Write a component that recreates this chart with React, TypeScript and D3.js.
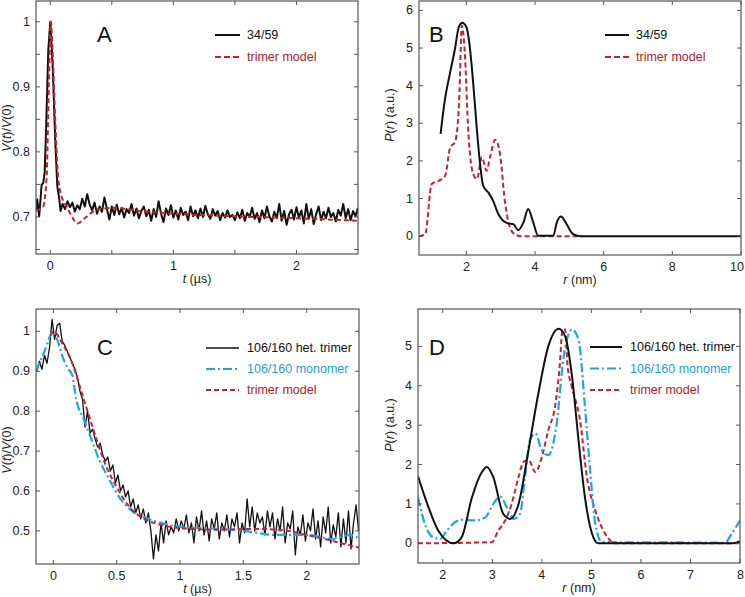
import React from 'react';
import * as d3 from 'd3';

const RED = '#c8202e';
const RED_TEXT = '#b01a29';
const BLUE = '#1fa6e2';
const BLUE_TEXT = '#1b9fdc';
const FONT = 'Liberation Sans, Arial, Helvetica, sans-serif';

// ---------- Panel A ----------
const aHeadT = [-0.116, -0.106, -0.09, -0.07, -0.057, -0.045, -0.035, -0.016, 0, 0.02, 0.04, 0.057, 0.073, 0.084];
const aHeadV = [0.711, 0.727, 0.701, 0.75, 0.752, 0.77, 0.829, 0.957, 1.0, 0.93, 0.819, 0.747, 0.727, 0.709];
const aTailStart = 0.1;
const aTailStep = 0.02;
const aTailV = [
  0.72, 0.712, 0.724, 0.715, 0.722, 0.708, 0.718, 0.712, 0.728, 0.716,
  0.735, 0.719, 0.71, 0.722, 0.705, 0.716, 0.708, 0.73, 0.712, 0.696,
  0.716, 0.703, 0.719, 0.704, 0.714, 0.699, 0.712, 0.706, 0.72, 0.702,
  0.713, 0.698, 0.709, 0.716, 0.701, 0.711, 0.694, 0.712, 0.7, 0.724,
  0.705, 0.692, 0.713, 0.703, 0.718, 0.699, 0.71, 0.696, 0.714, 0.703,
  0.708, 0.695, 0.716, 0.701, 0.71, 0.698, 0.713, 0.7, 0.717, 0.704,
  0.697, 0.712, 0.702, 0.709, 0.695, 0.706, 0.699, 0.71, 0.7, 0.703,
  0.695, 0.707, 0.698, 0.711, 0.694, 0.706, 0.7, 0.714, 0.697, 0.706,
  0.692, 0.71, 0.698, 0.716, 0.701, 0.693, 0.708, 0.698, 0.72, 0.694,
  0.709, 0.688, 0.704, 0.711, 0.696, 0.715, 0.699, 0.71, 0.69, 0.72,
  0.697, 0.712, 0.689, 0.704, 0.716, 0.695, 0.708, 0.698, 0.714, 0.7,
  0.706, 0.693, 0.711, 0.702, 0.72, 0.698, 0.712, 0.695, 0.709, 0.701,
  0.714,
];
const aRedT = [-0.116, -0.06, -0.03, -0.012, 0.005, 0.02, 0.04, 0.06, 0.08, 0.1, 0.133, 0.174, 0.22, 0.28, 0.377, 0.513, 0.7, 1.0, 1.5, 2.0, 2.5];
const aRedV = [0.71, 0.715, 0.76, 0.9, 1.0, 0.95, 0.85, 0.77, 0.74, 0.727, 0.716, 0.701, 0.69, 0.698, 0.711, 0.714, 0.71, 0.705, 0.701, 0.698, 0.694];

// ---------- Panel B ----------
const bBlackR = [1.25, 1.37, 1.52, 1.66, 1.78, 1.88, 2.0, 2.1, 2.2, 2.3, 2.39, 2.49, 2.64, 2.78, 2.93, 3.07, 3.22, 3.37, 3.51, 3.66, 3.8, 3.95, 4.09, 4.53, 4.64, 4.76, 4.9, 5.1, 5.31, 10];
const bBlackP = [2.72, 3.6, 4.32, 4.94, 5.56, 5.67, 5.56, 5.03, 4.05, 2.9, 2.0, 1.34, 1.16, 0.94, 0.59, 0.41, 0.34, 0.32, 0.16, 0.36, 0.72, 0.36, 0.01, 0.01, 0.38, 0.52, 0.35, 0.06, 0, 0];
const bRedR = [0.62, 0.8, 0.99, 1.19, 1.38, 1.53, 1.67, 1.79, 1.87, 1.95, 2.06, 2.2, 2.31, 2.45, 2.59, 2.69, 2.84, 2.98, 3.12, 3.27, 3.41, 3.61, 5.4];
const bRedP = [0, 0.05, 1.39, 1.47, 1.6, 2.36, 2.5, 3.6, 5.6, 4.94, 2.72, 1.65, 1.52, 2.1, 1.74, 2.1, 2.56, 2.18, 0.94, 0.23, 0.05, 0, 0];

// ---------- Panel C ----------
const cStart = -0.13;
const cStep = 0.02;
const cBlackV = [
  0.9, 0.925, 0.905, 0.94, 0.92, 0.96, 1.03, 0.98, 1.015, 1.02,
  0.975, 0.965, 0.95, 0.935, 0.92, 0.905, 0.885, 0.85, 0.83, 0.76,
  0.8, 0.745, 0.755, 0.73, 0.71, 0.72, 0.69, 0.675, 0.685, 0.65,
  0.665, 0.62, 0.64, 0.6, 0.615, 0.585, 0.6, 0.56, 0.58, 0.545,
  0.565, 0.53, 0.555, 0.52, 0.545, 0.5, 0.43, 0.49, 0.45, 0.52,
  0.47, 0.525, 0.49, 0.51, 0.495, 0.53, 0.5, 0.525, 0.505, 0.54,
  0.495, 0.52, 0.47, 0.535, 0.5, 0.55, 0.49, 0.525, 0.475, 0.53,
  0.505, 0.545, 0.48, 0.52, 0.5, 0.54, 0.485, 0.53, 0.51, 0.545,
  0.47, 0.52, 0.495, 0.58, 0.51, 0.56, 0.5, 0.545, 0.52, 0.535,
  0.49, 0.55, 0.51, 0.545, 0.48, 0.53, 0.5, 0.56, 0.47, 0.52,
  0.505, 0.55, 0.44, 0.51, 0.49, 0.54, 0.475, 0.52, 0.5, 0.555,
  0.48, 0.525, 0.46, 0.535, 0.495, 0.56, 0.47, 0.515, 0.485, 0.545,
  0.46, 0.53, 0.47, 0.55, 0.455, 0.52, 0.565, 0.5,
];
const cBlueT = [-0.137, -0.07, 0, 0.03, 0.08, 0.12, 0.15, 0.18, 0.24, 0.3, 0.36, 0.44, 0.53, 0.62, 0.75, 0.85, 1.0, 1.3, 1.5, 1.75, 2.0, 2.2, 2.35, 2.413];
const cBlueV = [0.9, 0.95, 1.0, 0.98, 0.93, 0.905, 0.89, 0.83, 0.78, 0.73, 0.68, 0.63, 0.58, 0.55, 0.53, 0.52, 0.51, 0.505, 0.5, 0.49, 0.49, 0.48, 0.49, 0.48];
const cRedT = [-0.02, 0.0, 0.07, 0.15, 0.22, 0.29, 0.35, 0.42, 0.5, 0.6, 0.72, 0.85, 1.0, 1.3, 1.6, 1.85, 2.0, 2.2, 2.413];
const cRedV = [0.99, 1.0, 0.97, 0.92, 0.85, 0.78, 0.72, 0.66, 0.61, 0.56, 0.53, 0.515, 0.507, 0.503, 0.505, 0.5, 0.49, 0.475, 0.458];

// ---------- Panel D ----------
const dBlackR = [1.5, 1.71, 1.91, 2.22, 2.38, 2.59, 2.79, 2.89, 3.02, 3.22, 3.36, 3.53, 3.73, 3.93, 4.13, 4.34, 4.47, 4.61, 4.74, 4.87, 5.04, 5.14, 7.83, 8.0];
const dBlackP = [1.7, 0.92, 0.32, 0, 0.15, 1.17, 1.81, 1.94, 1.68, 0.75, 0.62, 1.0, 2.36, 3.81, 5.0, 5.45, 5.26, 4.23, 2.62, 1.17, 0.15, 0, 0, 0.05];
const dBlueR = [1.5, 1.64, 1.81, 1.95, 2.08, 2.25, 2.38, 2.65, 2.86, 3.02, 3.16, 3.29, 3.43, 3.56, 3.66, 3.76, 3.87, 4.0, 4.13, 4.3, 4.44, 4.61, 4.74, 4.87, 4.98, 5.08, 5.21, 7.7, 7.83, 8.0];
const dBlueP = [1.17, 0.49, 0.15, 0.11, 0.32, 0.54, 0.6, 0.58, 0.66, 1.0, 1.19, 0.92, 0.62, 0.75, 1.68, 2.62, 2.79, 2.36, 2.24, 3.04, 4.74, 5.43, 5.17, 3.47, 1.77, 0.49, 0.03, 0.02, 0.24, 0.58];
const dRedR = [1.5, 2.99, 3.12, 3.26, 3.39, 3.53, 3.63, 3.73, 3.87, 4.0, 4.13, 4.27, 4.36, 4.42, 4.47, 4.52, 4.6, 4.77, 4.91, 5.08, 5.28, 5.48, 8.0];
const dRedP = [0, 0.03, 0.32, 0.58, 1.0, 1.68, 2.07, 2.11, 1.81, 2.19, 2.87, 3.5, 4.5, 5.43, 5.43, 4.5, 4.0, 3.13, 1.68, 0.83, 0.24, 0, 0];

// ---------- tick definitions ----------
const aXTicks = [0, 0.5, 1, 1.5, 2];
const aXLabels = ['0', '', '1', '', '2'];
const aYTicks = [0.65, 0.7, 0.75, 0.8, 0.85, 0.9, 0.95, 1];
const aYLabels = ['', '0.7', '', '0.8', '', '0.9', '', '1'];
const bXTicks = [2, 4, 6, 8, 10];
const bXLabels = ['2', '4', '6', '8', '10'];
const bYTicks = [0, 1, 2, 3, 4, 5, 6];
const bYLabels = ['0', '1', '2', '3', '4', '5', '6'];
const cXTicks = [0, 0.5, 1, 1.5, 2];
const cXLabels = ['0', '0.5', '1', '1.5', '2'];
const cYTicks = [0.5, 0.6, 0.7, 0.8, 0.9, 1];
const cYLabels = ['0.5', '0.6', '0.7', '0.8', '0.9', '1'];
const dXTicks = [2, 3, 4, 5, 6, 7, 8];
const dXLabels = ['2', '3', '4', '5', '6', '7', '8'];
const dYTicks = [0, 1, 2, 3, 4, 5];
const dYLabels = ['0', '1', '2', '3', '4', '5'];

type Series = { xs: number[]; ys: number[]; color: string; width: number; dash?: string; curve?: any };
type LegendItem = { label: string; color: string; textColor: string; width: number; dash?: string };

const zip = (xs: number[], ys: number[]) => xs.map((x, i) => [x, ys[i]] as [number, number]);
const grid = (start: number, step: number, vals: number[]) => vals.map((_, i) => +(start + i * step).toFixed(4));

function Panel(props: {
  id: string;
  box: { x0: number; x1: number; y0: number; y1: number };
  xDomain: [number, number];
  yDomain: [number, number];
  xTicks: number[]; xLabels: string[];
  yTicks: number[]; yLabels: string[];
  series: Series[];
  legend: LegendItem[];
  legendPos: { lx0: number; lx1: number; tx: number; y: number; gap: number };
  letter: string; letterPos: [number, number];
  xTitle: React.ReactNode; yTitle: React.ReactNode;
  yTitlePos: [number, number];
}) {
  const { box } = props;
  const x = d3.scaleLinear().domain(props.xDomain).range([box.x0, box.x1]);
  const y = d3.scaleLinear().domain(props.yDomain).range([box.y1, box.y0]);
  const tl = 4;
  const frameColor = '#555';
  return (
    <g>
      <defs>
        <clipPath id={'clip' + props.id}>
          <rect x={box.x0} y={box.y0} width={box.x1 - box.x0} height={box.y1 - box.y0} />
        </clipPath>
      </defs>
      <g clipPath={`url(#clip${props.id})`}>
        {props.series.map((s, i) => {
          const gen = d3.line<[number, number]>().x(d => x(d[0])).y(d => y(d[1])).curve(s.curve || d3.curveLinear);
          return (
            <path key={i} d={gen(zip(s.xs, s.ys)) || ''} fill="none" stroke={s.color} strokeWidth={s.width}
              strokeDasharray={s.dash} strokeLinejoin="round" strokeLinecap="butt" />
          );
        })}
      </g>
      <rect x={box.x0} y={box.y0} width={box.x1 - box.x0} height={box.y1 - box.y0} fill="none" stroke={frameColor} strokeWidth={1.2} />
      {props.xTicks.map((t, i) => {
        const px = x(t);
        const nearEdge = px > 735;
        return (
          <g key={'xt' + i}>
            <line x1={px} x2={px} y1={box.y1} y2={box.y1 - tl} stroke={frameColor} />
            <line x1={px} x2={px} y1={box.y0} y2={box.y0 + tl} stroke={frameColor} />
            {props.xLabels[i] && (
              <text x={nearEdge ? 744 : px} y={box.y1 + 12} textAnchor={nearEdge ? 'end' : 'middle'} dominantBaseline="central" fontSize={12.5} fill="#222" fontFamily={FONT}>{props.xLabels[i]}</text>
            )}
          </g>
        );
      })}
      {props.yTicks.map((t, i) => (
        <g key={'yt' + i}>
          <line x1={box.x0} x2={box.x0 + tl} y1={y(t)} y2={y(t)} stroke={frameColor} />
          <line x1={box.x1} x2={box.x1 - tl} y1={y(t)} y2={y(t)} stroke={frameColor} />
          {props.yLabels[i] && (
            <text x={box.x0 - 6} y={y(t)} textAnchor="end" dominantBaseline="central" fontSize={12.5} fill="#222" fontFamily={FONT}>{props.yLabels[i]}</text>
          )}
        </g>
      ))}
      <text x={(box.x0 + box.x1) / 2} y={box.y1 + 25} textAnchor="middle" dominantBaseline="central" fontSize={12.5} fill="#222" fontFamily={FONT}>{props.xTitle}</text>
      <text transform={`translate(${props.yTitlePos[0]},${props.yTitlePos[1]}) rotate(-90)`} textAnchor="middle" dominantBaseline="central" fontSize={12.5} fill="#222" fontFamily={FONT}>{props.yTitle}</text>
      <text x={props.letterPos[0]} y={props.letterPos[1]} fontSize={22} fill="#111" fontFamily={FONT}>{props.letter}</text>
      {props.legend.map((l, i) => {
        const yy = props.legendPos.y + i * props.legendPos.gap;
        return (
          <g key={'lg' + i}>
            <line x1={props.legendPos.lx0} x2={props.legendPos.lx1} y1={yy} y2={yy} stroke={l.color} strokeWidth={l.width} strokeDasharray={l.dash} />
            <text x={props.legendPos.tx} y={yy} dominantBaseline="central" fontSize={12.5} fill={l.textColor} fontFamily={FONT}>{l.label}</text>
          </g>
        );
      })}
    </g>
  );
}

const it = (s: string) => <tspan fontStyle="italic">{s}</tspan>;

export default function App() {
  const aTailT = grid(aTailStart, aTailStep, aTailV);
  const cT = grid(cStart, cStep, cBlackV);
  const vTitle = <>{it('V')}({it('t')})/{it('V')}(0)</>;
  const pTitle = <>{it('P')}({it('r')}) (a.u.)</>;
  const tTitle = <>{it('t')} (µs)</>;
  const rTitle = <>{it('r')} (nm)</>;
  const redDash = '5,3';
  const blueDash = '9,3,2,3';
  return (
    <svg width={745} height={597} style={{ position: 'absolute', left: 0, top: 0, background: '#fff' }}>
      <rect width={745} height={597} fill="#fff" />
      <Panel id="A" box={{ x0: 36, x1: 358, y0: 1, y1: 254 }} xDomain={[-0.116, 2.5]} yDomain={[0.643, 1.032]}
        xTicks={aXTicks} xLabels={aXLabels} yTicks={aYTicks} yLabels={aYLabels}
        series={[
          { xs: [...aHeadT, ...aTailT], ys: [...aHeadV, ...aTailV], color: '#111', width: 2 },
          { xs: aRedT, ys: aRedV, color: RED, width: 2, dash: redDash, curve: d3.curveMonotoneX },
        ]}
        legend={[
          { label: '34/59', color: '#111', textColor: '#111', width: 2 },
          { label: 'trimer model', color: RED, textColor: RED_TEXT, width: 2, dash: '6,3' },
        ]}
        legendPos={{ lx0: 215, lx1: 240, tx: 247, y: 35, gap: 22 }}
        letter="A" letterPos={[97, 42]} xTitle={tTitle} yTitle={vTitle} yTitlePos={[7, 128]} />
      <Panel id="B" box={{ x0: 419, x1: 741, y0: 1, y1: 255 }} xDomain={[0.62, 10]} yDomain={[-0.5, 6.25]}
        xTicks={bXTicks} xLabels={bXLabels} yTicks={bYTicks} yLabels={bYLabels}
        series={[
          { xs: bRedR, ys: bRedP, color: RED, width: 2, dash: redDash, curve: d3.curveMonotoneX },
          { xs: bBlackR, ys: bBlackP, color: '#111', width: 2, curve: d3.curveMonotoneX },
        ]}
        legend={[
          { label: '34/59', color: '#111', textColor: '#111', width: 2 },
          { label: 'trimer model', color: RED, textColor: RED_TEXT, width: 2, dash: '6,3' },
        ]}
        legendPos={{ lx0: 605, lx1: 629, tx: 636, y: 35, gap: 22 }}
        letter="B" letterPos={[429, 42]} xTitle={rTitle} yTitle={pTitle} yTitlePos={[390, 115]} />
      <Panel id="C" box={{ x0: 36, x1: 359, y0: 309, y1: 564 }} xDomain={[-0.137, 2.413]} yDomain={[0.417, 1.056]}
        xTicks={cXTicks} xLabels={cXLabels} yTicks={cYTicks} yLabels={cYLabels}
        series={[
          { xs: cT, ys: cBlackV, color: '#111', width: 1.3 },
          { xs: cBlueT, ys: cBlueV, color: BLUE, width: 2.2, dash: blueDash, curve: d3.curveMonotoneX },
          { xs: cRedT, ys: cRedV, color: RED, width: 2, dash: redDash, curve: d3.curveMonotoneX },
        ]}
        legend={[
          { label: '106/160 het. trimer', color: '#111', textColor: '#111', width: 1.3 },
          { label: '106/160 monomer', color: BLUE, textColor: BLUE_TEXT, width: 2.2, dash: blueDash },
          { label: 'trimer model', color: RED, textColor: RED_TEXT, width: 2, dash: redDash },
        ]}
        legendPos={{ lx0: 206, lx1: 239, tx: 247, y: 348, gap: 21 }}
        letter="C" letterPos={[97, 355]} xTitle={tTitle} yTitle={vTitle} yTitlePos={[7, 450]} />
      <Panel id="D" box={{ x0: 418, x1: 740, y0: 309, y1: 563 }} xDomain={[1.5, 8]} yDomain={[-0.5, 5.95]}
        xTicks={dXTicks} xLabels={dXLabels} yTicks={dYTicks} yLabels={dYLabels}
        series={[
          { xs: dRedR, ys: dRedP, color: RED, width: 2, dash: redDash, curve: d3.curveMonotoneX },
          { xs: dBlueR, ys: dBlueP, color: BLUE, width: 2.2, dash: blueDash, curve: d3.curveMonotoneX },
          { xs: dBlackR, ys: dBlackP, color: '#111', width: 2, curve: d3.curveMonotoneX },
        ]}
        legend={[
          { label: '106/160 het. trimer', color: '#111', textColor: '#111', width: 2 },
          { label: '106/160 monomer', color: BLUE, textColor: BLUE_TEXT, width: 2.2, dash: blueDash },
          { label: 'trimer model', color: RED, textColor: RED_TEXT, width: 2, dash: redDash },
        ]}
        legendPos={{ lx0: 590, lx1: 622, tx: 630, y: 347, gap: 21.5 }}
        letter="D" letterPos={[429, 355]} xTitle={rTitle} yTitle={pTitle} yTitlePos={[390, 425]} />
    </svg>
  );
}
